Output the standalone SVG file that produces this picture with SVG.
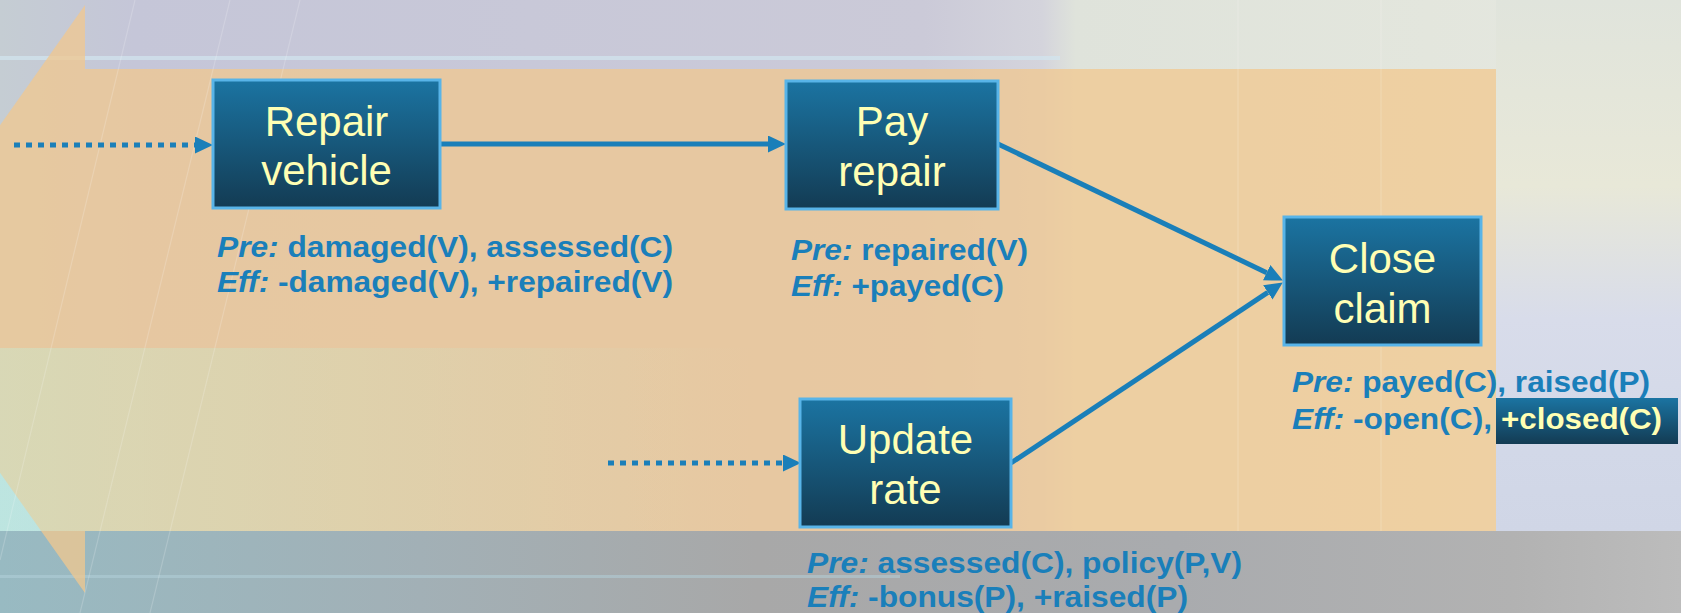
<svg xmlns="http://www.w3.org/2000/svg" width="1681" height="613" viewBox="0 0 1681 613">
<defs>
<linearGradient id="bgTop" x1="0" y1="0" x2="1" y2="0">
<stop offset="0" stop-color="#c5cdd3"/>
<stop offset="0.08" stop-color="#c5c6d8"/>
<stop offset="0.55" stop-color="#cbcad8"/>
<stop offset="0.62" stop-color="#d4d4dc"/>
<stop offset="0.64" stop-color="#dfe3db"/>
<stop offset="0.85" stop-color="#e3e6dd"/>
<stop offset="1" stop-color="#e6e8e2"/>
</linearGradient>
<linearGradient id="bgRight" x1="0" y1="0" x2="0" y2="1">
<stop offset="0" stop-color="#e0e4dc"/>
<stop offset="0.35" stop-color="#e8e8d8"/>
<stop offset="0.6" stop-color="#d8dcea"/>
<stop offset="0.85" stop-color="#d2d8e8"/>
<stop offset="1" stop-color="#d0d6e6"/>
</linearGradient>
<linearGradient id="bgBottom" x1="0" y1="0" x2="1" y2="0">
<stop offset="0" stop-color="#98bac2"/>
<stop offset="0.25" stop-color="#a2b0b6"/>
<stop offset="0.45" stop-color="#a8a8a8"/>
<stop offset="0.7" stop-color="#a9abae"/>
<stop offset="0.9" stop-color="#b2b2b2"/>
<stop offset="1" stop-color="#bcbcbc"/>
</linearGradient>
<linearGradient id="cyanPatch" x1="0" y1="0" x2="1" y2="0">
<stop offset="0" stop-color="#b6e4ea" stop-opacity="1"/>
<stop offset="0.5" stop-color="#b6e0e6" stop-opacity="0.6"/>
<stop offset="1" stop-color="#b6e0e6" stop-opacity="0"/>
</linearGradient>
<linearGradient id="tintPatch" x1="0" y1="0" x2="1" y2="0">
<stop offset="0" stop-color="#c8e6d0" stop-opacity="0.38"/>
<stop offset="0.4" stop-color="#c8e6d0" stop-opacity="0.22"/>
<stop offset="1" stop-color="#c8e6d0" stop-opacity="0"/>
</linearGradient>
<linearGradient id="boxFill" x1="0" y1="0" x2="0" y2="1">
<stop offset="0" stop-color="#1b74a2"/>
<stop offset="1" stop-color="#133b53"/>
</linearGradient>
<marker id="arrow" markerWidth="18" markerHeight="18" refX="0" refY="8.5" orient="auto" markerUnits="userSpaceOnUse">
<path d="M0,0 L18,8.5 L0,17 Z" fill="#1a7fb9"/>
</marker>
<style>
.box{fill:url(#boxFill);stroke:#58b4e8;stroke-width:3;}
.lbl{font-family:"Liberation Sans",Arial,sans-serif;font-size:42px;fill:#ffffb4;text-anchor:middle;}
.cond{font-family:"Liberation Sans",Arial,sans-serif;font-size:29px;font-weight:bold;fill:#1a7fba;}
.it{font-style:italic;}
.edge{fill:none;stroke:#1a7fb9;stroke-width:5;}
.dot{stroke-dasharray:6 6;}
</style>
</defs>

<g id="background">
<rect x="0" y="0" width="1681" height="613" fill="url(#bgTop)"/>
<rect x="1496" y="0" width="185" height="531" fill="url(#bgRight)"/>
<rect x="0" y="56" width="1060" height="4" fill="#d2e6f0" opacity="0.7"/>
<rect x="0" y="348" width="720" height="183" fill="url(#cyanPatch)"/>
<rect x="0" y="531" width="1681" height="82" fill="url(#bgBottom)"/>
<rect x="0" y="575" width="900" height="3" fill="#b4d2dc" opacity="0.5"/>
<path d="M85,5 L85,69 L1496,69 L1496,531 L85,531 L85,593 L-123,299 Z" fill="#f2c88e" opacity="0.74"/>
<rect x="0" y="348" width="760" height="183" fill="url(#tintPatch)"/>
<g stroke="#ffffff" stroke-width="1.2" opacity="0.18" fill="none">
<line x1="135" y1="0" x2="0" y2="560"/>
<line x1="230" y1="0" x2="80" y2="613"/>
<line x1="300" y1="0" x2="150" y2="613"/>
<line x1="1238" y1="0" x2="1238" y2="531"/>
<line x1="1381" y1="0" x2="1381" y2="531"/>
</g>
</g>

<g id="connectors">
<line class="edge dot" x1="14" y1="145" x2="195" y2="145" marker-end="url(#arrow)"/>
<line class="edge" x1="440" y1="144" x2="768" y2="144" marker-end="url(#arrow)"/>
<line class="edge" x1="998" y1="144" x2="1266.7" y2="272.7" marker-end="url(#arrow)"/>
<line class="edge" x1="1011" y1="463" x2="1267.8" y2="292.4" marker-end="url(#arrow)"/>
<line class="edge dot" x1="608" y1="463" x2="783" y2="463" marker-end="url(#arrow)"/>
</g>

<g id="repair-vehicle">
<rect class="box" x="213" y="80" width="227" height="128"/>
<text class="lbl" x="326.5" y="136">Repair</text>
<text class="lbl" x="326.5" y="185">vehicle</text>
<text class="cond" x="217" y="257" textLength="456" lengthAdjust="spacingAndGlyphs"><tspan class="it">Pre:</tspan> damaged(V), assessed(C)</text>
<text class="cond" x="217" y="292" textLength="456" lengthAdjust="spacingAndGlyphs"><tspan class="it">Eff:</tspan> -damaged(V), +repaired(V)</text>
</g>

<g id="pay-repair">
<rect class="box" x="786" y="81" width="212" height="128"/>
<text class="lbl" x="892" y="136">Pay</text>
<text class="lbl" x="892" y="186">repair</text>
<text class="cond" x="791" y="260" textLength="237" lengthAdjust="spacingAndGlyphs"><tspan class="it">Pre:</tspan> repaired(V)</text>
<text class="cond" x="791" y="296" textLength="213" lengthAdjust="spacingAndGlyphs"><tspan class="it">Eff:</tspan> +payed(C)</text>
</g>

<g id="close-claim">
<rect class="box" x="1284" y="217" width="197" height="128"/>
<text class="lbl" x="1382.5" y="273">Close</text>
<text class="lbl" x="1382.5" y="323">claim</text>
<text class="cond" x="1292" y="392" textLength="358" lengthAdjust="spacingAndGlyphs"><tspan class="it">Pre:</tspan> payed(C), raised(P)</text>
<text class="cond" x="1292" y="429" textLength="200" lengthAdjust="spacingAndGlyphs"><tspan class="it">Eff:</tspan> -open(C),</text>
<rect x="1496" y="398" width="182" height="46" fill="url(#boxFill)"/>
<text class="cond" x="1501" y="429" textLength="161" lengthAdjust="spacingAndGlyphs" style="fill:#ffffb4">+closed(C)</text>
</g>

<g id="update-rate">
<rect class="box" x="800" y="399" width="211" height="128"/>
<text class="lbl" x="905.5" y="454">Update</text>
<text class="lbl" x="905.5" y="504">rate</text>
<text class="cond" x="807" y="573" textLength="435" lengthAdjust="spacingAndGlyphs"><tspan class="it">Pre:</tspan> assessed(C), policy(P,V)</text>
<text class="cond" x="807" y="607" textLength="381" lengthAdjust="spacingAndGlyphs"><tspan class="it">Eff:</tspan> -bonus(P), +raised(P)</text>
</g>
</svg>
